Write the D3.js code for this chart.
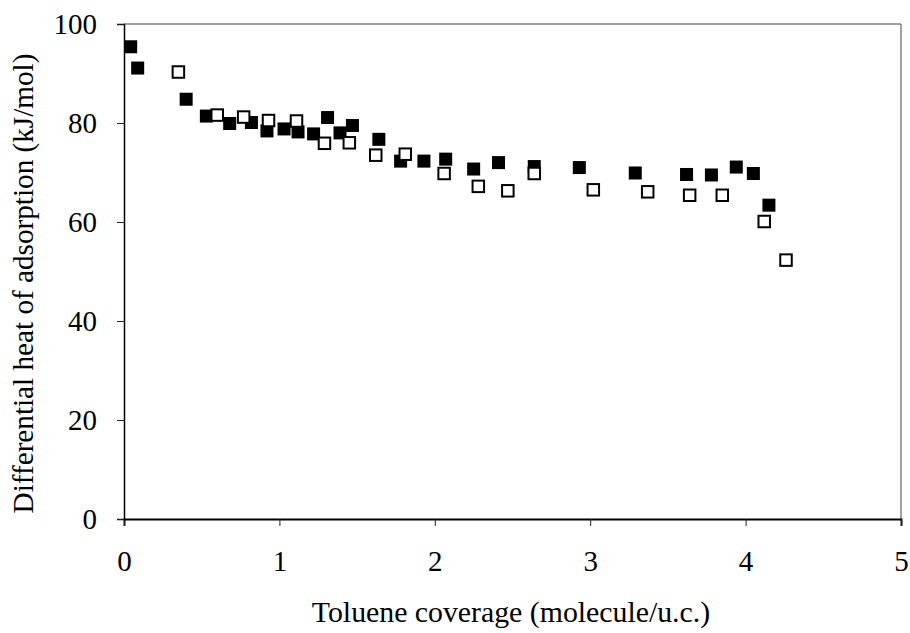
<!DOCTYPE html>
<html><head><meta charset="utf-8">
<script src="https://cdn.jsdelivr.net/npm/d3@7"></script>
<style>body{margin:0;background:#fff}svg{display:block}</style>
</head><body><svg id="c" width="910" height="633"></svg>
<script>
const filledX = [0.043,0.088,0.40,0.53,0.68,0.82,0.92,1.03,1.12,1.22,1.31,1.39,1.47,1.64,1.78,1.93,2.07,2.25,2.41,2.64,2.93,3.29,3.62,3.78,3.94,4.05,4.15];
const filledY = [95.4,91.1,84.8,81.4,79.9,80.1,78.4,78.8,78.2,77.8,81.1,78.0,79.5,76.7,72.3,72.3,72.7,70.7,72.0,71.2,71.0,69.9,69.6,69.5,71.1,69.8,63.4];
const openX = [0.35,0.60,0.77,0.93,1.11,1.29,1.45,1.62,1.81,2.06,2.28,2.47,2.64,3.02,3.37,3.64,3.85,4.12,4.26];
const openY = [90.3,81.6,81.2,80.5,80.4,75.9,76.0,73.5,73.7,69.8,67.2,66.3,69.8,66.5,66.1,65.4,65.4,60.1,52.3];
const xTicks = [0,1,2,3,4,5];
const yTicks = [0,20,40,60,80,100];
const xTitle = "Toluene coverage (molecule/u.c.)";
const yTitle = "Differential heat of adsorption (kJ/mol)";

const svg = d3.select("#c");
const L=124,R=901,T=24,B=519;
const x = d3.scaleLinear().domain([0,5]).range([L,R]);
const y = d3.scaleLinear().domain([0,100]).range([B,T]);
const font = "'Liberation Serif','Times New Roman',serif";
const fs = 29;

// frame top/right
svg.append("line").attr("x1",L).attr("x2",R).attr("y1",T).attr("y2",T).attr("stroke","#444").attr("stroke-width",1);
svg.append("line").attr("x1",R).attr("x2",R).attr("y1",T).attr("y2",B).attr("stroke","#444").attr("stroke-width",1);

const gx = svg.append("g").attr("transform",`translate(0,${B})`)
  .call(d3.axisBottom(x).tickValues(xTicks).tickFormat(d3.format("d")).tickSize(7).tickPadding(24));
const gy = svg.append("g").attr("transform",`translate(${L},0)`)
  .call(d3.axisLeft(y).tickValues(yTicks).tickFormat(d3.format("d")).tickSize(7).tickPadding(20));
[gx,gy].forEach(g=>{
  g.attr("font-family",font).attr("font-size",fs);
  g.selectAll("text").attr("font-family",font).attr("font-size",fs).attr("fill","#000");
  g.selectAll(".tick line").attr("stroke","#222");
});
gx.select(".domain").attr("stroke","#000").attr("stroke-width",2);
gy.select(".domain").attr("stroke","#000").attr("stroke-width",1.5);

const s = 13;
svg.append("g").selectAll("rect").data(filledX.map((d,i)=>[d,filledY[i]])).join("rect")
  .attr("x",d=>x(d[0])-s/2).attr("y",d=>y(d[1])-s/2).attr("width",s).attr("height",s).attr("fill","#000");
const so = 11.5;
svg.append("g").selectAll("rect").data(openX.map((d,i)=>[d,openY[i]])).join("rect")
  .attr("x",d=>x(d[0])-so/2).attr("y",d=>y(d[1])-so/2).attr("width",so).attr("height",so)
  .attr("fill","#fff").attr("stroke","#000").attr("stroke-width",2);

svg.append("text").attr("x",511).attr("y",622).attr("text-anchor","middle")
  .attr("font-family",font).attr("font-size",29.8).text(xTitle);
svg.append("text").attr("transform",`translate(33,${(T+B)/2+12}) rotate(-90)`).attr("text-anchor","middle")
  .attr("font-family",font).attr("font-size",29.2).text(yTitle);
</script></body></html>
